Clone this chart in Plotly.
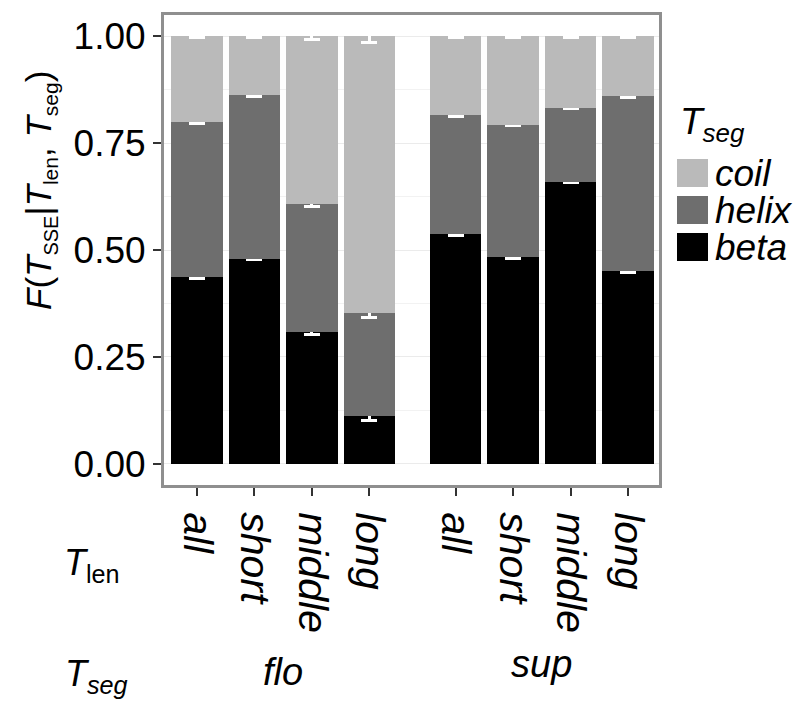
import plotly.graph_objects as go

# ---------------- data ----------------
groups = ["flo", "flo", "flo", "flo", "sup", "sup", "sup", "sup"]
lengths = ["all", "short", "middle", "long", "all", "short", "middle", "long"]

beta = [0.437, 0.480, 0.308, 0.112, 0.537, 0.483, 0.660, 0.450]
helix = [0.363, 0.382, 0.299, 0.240, 0.278, 0.310, 0.173, 0.410]
coil = [0.200, 0.138, 0.393, 0.648, 0.185, 0.207, 0.167, 0.140]

beta_se = [0.003, 0.003, 0.006, 0.010, 0.002, 0.002, 0.002, 0.002]
helix_se = [0.003, 0.003, 0.005, 0.010, 0.002, 0.002, 0.002, 0.002]
coil_se = [0.003, 0.003, 0.007, 0.015, 0.002, 0.002, 0.002, 0.002]

y_ticks = [0, 0.25, 0.5, 0.75, 1.0]
y_ticktext = ["0.00", "0.25", "0.50", "0.75", "1.00"]

series_colors = {"beta": "#000000", "helix": "#6E6E6E", "coil": "#BABABA"}

# positions: consecutive within a group, extra half-slot gap between groups
group_order = []
for g in groups:
    if g not in group_order:
        group_order.append(g)
xpos = [i + 1 + 0.5 * group_order.index(g) for i, g in enumerate(groups)]

FONT = "Liberation Sans, Arial, Helvetica, sans-serif"

fig = go.Figure()
for name, vals, se in [("beta", beta, beta_se), ("helix", helix, helix_se), ("coil", coil, coil_se)]:
    fig.add_trace(go.Bar(
        x=xpos, y=vals, name=name, width=0.9,
        marker=dict(color=series_colors[name], line=dict(width=0)),
        error_y=dict(type="data", array=se, color="white", thickness=3, width=8),
        showlegend=False,
    ))

# page body has an 8px default margin: figure is 8px smaller and drawn offset
OFF = 8
W, H = 802 - OFF, 702 - OFF
# plot area in window pixels
WL, WR, WT, WB = 164, 659, 15, 485
def px(x):
    return (x - WL) / (WR - WL)
def py(y):
    return (WB - y) / (WB - WT)

axis_line = dict(showline=True, linecolor="#8f8f8f", linewidth=3, mirror=True, zeroline=False)

fig.update_layout(
    width=W, height=H,
    margin=dict(l=WL - OFF, r=W - (WR - OFF), t=WT - OFF, b=H - (WB - OFF), autoexpand=False),
    paper_bgcolor="white", plot_bgcolor="white",
    barmode="stack", bargap=0.1,
    font=dict(family=FONT, color="black"),
    xaxis=dict(
        range=[0.426, 9.04], tickvals=xpos, ticktext=lengths, tickangle=90,
        tickfont=dict(family=FONT, size=41, color="black", style="italic"),
        ticks="outside", ticklen=8, tickwidth=2, tickcolor="#333333",
        showgrid=False, ticklabelstandoff=8, **axis_line,
    ),
    yaxis=dict(
        range=[-0.05, 1.05], tickvals=y_ticks, ticktext=y_ticktext,
        tickfont=dict(family=FONT, size=37, color="black"),
        ticks="outside", ticklen=8, tickwidth=2, tickcolor="#333333",
        showgrid=True, gridcolor="#EBEBEB", gridwidth=1.2,
        minor=dict(tickvals=[0.125, 0.375, 0.625, 0.875], showgrid=True,
                   gridcolor="#F2F2F2", gridwidth=0.8, ticks=""),
        **axis_line,
    ),
)

def sub(t, size):
    return "<sub><span style='font-size:%dpx'>%s</span></sub>" % (size, t)

ann = []
# y-axis title
ann.append(dict(text="<i>F</i>(<i>T</i>%s|<i>T</i>%s, <i>T</i>%s)" % (sub("SSE", 20), sub("len", 21), sub("seg", 21)),
                textangle=-90, xref="paper", yref="paper", x=px(40), y=py(191),
                xanchor="center", yanchor="middle", showarrow=False,
                font=dict(family=FONT, size=35, color="black")))
# lower axis-row labels
ann.append(dict(text="<i>T</i><sub>len</sub>", xref="paper", yref="paper", x=px(92), y=py(565),
                xanchor="center", yanchor="middle", showarrow=False,
                font=dict(family=FONT, size=36, color="black")))
ann.append(dict(text="<i>T</i><sub><i>seg</i></sub>", xref="paper", yref="paper", x=px(96), y=py(676),
                xanchor="center", yanchor="middle", showarrow=False,
                font=dict(family=FONT, size=36, color="black")))
for g, yy in zip(group_order, [672, 664]):
    gx = [x for x, gg in zip(xpos, groups) if gg == g]
    ann.append(dict(text="<i>%s</i>" % g, xref="x", yref="paper", x=sum(gx) / len(gx), y=py(yy),
                    xanchor="center", yanchor="middle", showarrow=False,
                    font=dict(family=FONT, size=38, color="black")))

# manual legend (large swatches)
ann.append(dict(text="<i>T</i><sub><i>seg</i></sub>", xref="paper", yref="paper", x=px(678), y=py(124),
                xanchor="left", yanchor="middle", showarrow=False,
                font=dict(family=FONT, size=37, color="black")))
shapes = []
leg_items = ["coil", "helix", "beta"]
for i, name in enumerate(leg_items):
    top = 159 + i * 37
    shapes.append(dict(type="rect", xref="paper", yref="paper",
                       x0=px(677), x1=px(708), y0=py(top + 28), y1=py(top),
                       fillcolor=series_colors[name], line=dict(width=0)))
    ann.append(dict(text="<i>%s</i>" % name, xref="paper", yref="paper", x=px(713), y=py(top + 14),
                    xanchor="left", yanchor="middle", showarrow=False,
                    font=dict(family=FONT, size=37, color="black")))

fig.update_layout(annotations=ann, shapes=shapes)
fig.write_html("out.html")
